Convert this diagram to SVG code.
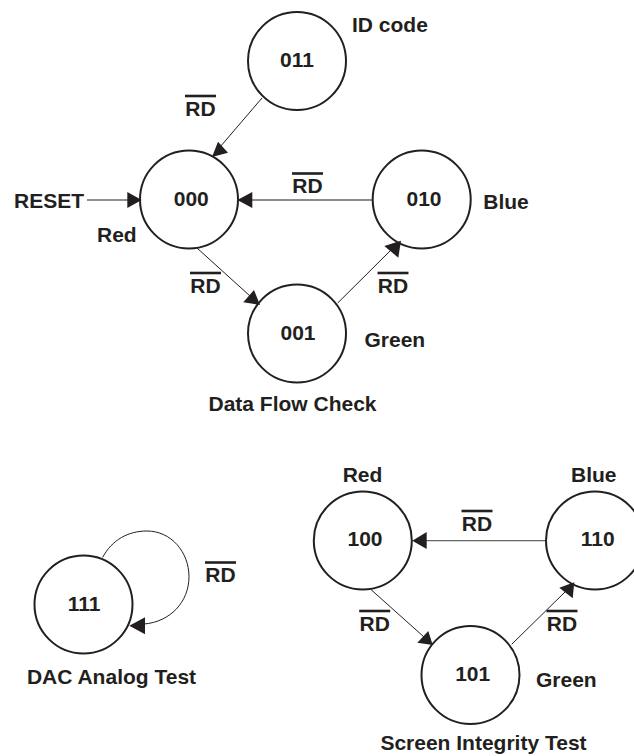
<svg xmlns="http://www.w3.org/2000/svg" width="634" height="756" viewBox="0 0 634 756">
<style>
text{font-family:"Liberation Sans",Arial,sans-serif;font-weight:700;font-size:21px;fill:#231f20}
.m{text-anchor:middle}
circle{fill:none;stroke:#231f20;stroke-width:2}
.w{fill:none;stroke:#231f20;stroke-width:1}
.g{fill:none;stroke:#666;stroke-width:1.3}
.h{fill:#231f20;stroke:none}
.o{stroke:#231f20;stroke-width:2.6}
</style>
<defs>
<g id="rd"><line class="o" x1="-15.5" x2="15.5" y1="-19.5" y2="-19.5"/><text class="m" y="0">RD</text></g>
</defs>
<rect width="634" height="756" fill="#fff"/>
<g id="connectors">
<line class="w" x1="262" y1="98" x2="220" y2="147"/>
<path class="h" d="M212,157L218,141.700L228,152.700Z"/>
<line class="w" x1="87" y1="200" x2="130" y2="200"/>
<path class="h" d="M141.700,200L127.300,192V208Z"/>
<line class="g" x1="372" y1="200" x2="250" y2="200"/>
<path class="h" d="M237.300,200L252.300,192V208Z"/>
<line class="w" x1="197" y1="248" x2="250" y2="296"/>
<path class="h" d="M260,305L243.300,302.300L254,290Z"/>
<line class="w" x1="337.700" y1="303" x2="392" y2="249"/>
<path class="h" d="M401,240.700L384.300,246L398.300,257.700Z"/>
<line class="g" x1="546" y1="540.700" x2="425" y2="540.700"/>
<path class="h" d="M412.300,540.700L426.700,532V549Z"/>
<line class="w" x1="370.700" y1="589.300" x2="424" y2="637"/>
<path class="h" d="M432.700,645L417.300,642.700L428.300,631Z"/>
<line class="w" x1="511.700" y1="644.300" x2="566" y2="591"/>
<path class="h" d="M574.300,582.300L559.300,587.700L572.700,598.300Z"/>
<path class="w" d="M102.700,557.300C112,540 128,531 147,531C171,531 189,552 189,576.700C189,602 170,622 144,624"/>
<path class="h" d="M129.300,625.700L145,617.300V634.300Z"/>
</g>
<g id="n011"><circle cx="297" cy="61" r="49"/><text class="m" x="297" y="67">011</text></g>
<g id="n000"><circle cx="189" cy="199.500" r="49"/><text class="m" x="191.300" y="206">000</text></g>
<g id="n010"><circle cx="421.700" cy="199.500" r="49"/><text class="m" x="424" y="206">010</text></g>
<g id="n001"><circle cx="297" cy="333.500" r="49"/><text class="m" x="298" y="340">001</text></g>
<g id="n100"><circle cx="362.800" cy="540.500" r="49"/><text class="m" x="365" y="546">100</text></g>
<g id="n110"><circle cx="595" cy="540.500" r="49"/><text class="m" x="597.700" y="546">110</text></g>
<g id="n101"><circle cx="470.500" cy="675" r="49"/><text class="m" x="472.700" y="681">101</text></g>
<g id="n111"><circle cx="83.500" cy="604.500" r="49"/><text class="m" x="84" y="611">111</text></g>
<g id="labels">
<use href="#rd" x="200.500" y="115.500"/>
<use href="#rd" x="307.500" y="193"/>
<use href="#rd" x="205.500" y="292.500"/>
<use href="#rd" x="393" y="292.500"/>
<use href="#rd" x="220.500" y="582"/>
<use href="#rd" x="477" y="530.500"/>
<use href="#rd" x="374.700" y="630.500"/>
<use href="#rd" x="562" y="630.500"/>
<text x="14" y="208">RESET</text>
<text x="97" y="241.700">Red</text>
<text x="352" y="32">ID code</text>
<text x="483.300" y="209">Blue</text>
<text x="364.500" y="347">Green</text>
<text class="m" x="292.500" y="411">Data Flow Check</text>
<text x="342.700" y="481.700">Red</text>
<text x="571" y="481.700">Blue</text>
<text x="536" y="686.700">Green</text>
<text class="m" x="111.500" y="684.300">DAC Analog Test</text>
<text class="m" x="483.500" y="750">Screen Integrity Test</text>
</g>
</svg>
